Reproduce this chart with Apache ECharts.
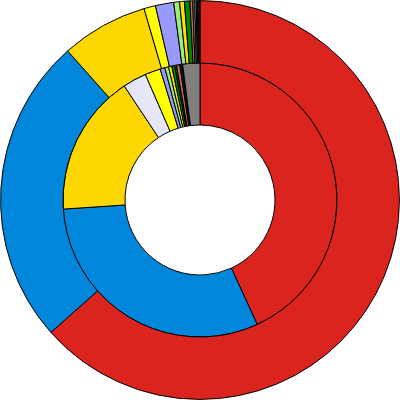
<!DOCTYPE html>
<html>
<head>
<meta charset="utf-8">
<script src="https://cdn.jsdelivr.net/npm/echarts@6/dist/echarts.min.js"></script>
<style>html,body{margin:0;padding:0;background:#fff}#c{width:400px;height:400px}</style>
</head>
<body>
<div id="c"></div>
<script>
// Inner ring
const innerNames = ["A1","B1","C1","D1","E1","F1","G1","H1","I1","J1","K1","L1","M1","N1"];
const innerValues = [155.3, 110.9, 60.2, 10.1, 6.6, 2.0, 1.6, 1.4, 1.2, 0.8, 1.4, 0.8, 0.4, 7.3];
const innerColors = ["#dc241f","#0087dc","#ffd700","#e6e6fa","#ffff00","#9999ff","#99ee77","#ffdd00","#008800","#005500","#cc6655","#222222","#999999","#808080"];
// Outer ring
const outerNames = ["A2","B2","C2","D2","E2","F2","G2","H2","I2","J2","K2","L2","M2"];
const outerValues = [228.4, 90.0, 25.3, 3.4, 5.3, 1.7, 1.4, 1.6, 0.8, 0.6, 0.4, 0.4, 0.7];
const outerColors = ["#dc241f","#0087dc","#ffd700","#ffff00","#9999ff","#99ee77","#ffdd00","#008800","#cc6655","#808080","#dddddd","#555555","#111111"];

function build(names, values, colors){
  return names.map((n,i)=>({name:n, value:values[i], itemStyle:{color:colors[i]}}));
}
const chart = echarts.init(document.getElementById('c'));
chart.setOption({
  animation:false,
  series:[
    {type:'pie', radius:['37.5%','68.5%'], center:['50%','50%'], startAngle:90, clockwise:true,
     label:{show:false}, labelLine:{show:false}, emphasis:{disabled:true},
     itemStyle:{borderColor:'#000', borderWidth:1},
     data: build(innerNames, innerValues, innerColors)},
    {type:'pie', radius:['68.5%','99.7%'], center:['50%','50%'], startAngle:90, clockwise:true,
     label:{show:false}, labelLine:{show:false}, emphasis:{disabled:true},
     itemStyle:{borderColor:'#000', borderWidth:1},
     data: build(outerNames, outerValues, outerColors)}
  ]
});
</script>
</body>
</html>
